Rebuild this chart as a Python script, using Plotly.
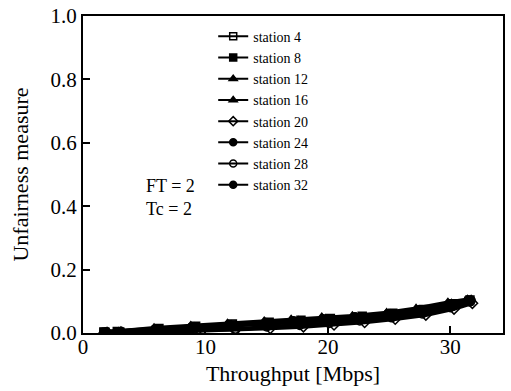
import plotly.graph_objects as go

# Data (throughput in Mbps, unfairness measure)
stations = ["station 4", "station 8", "station 12", "station 16",
            "station 20", "station 24", "station 28", "station 32"]

x_s4 = [1.8, 3.0, 6.0, 9.0, 12.0, 15.0, 17.5, 20.0, 22.5, 25.0, 27.5, 30.0, 31.5]
y_s4 = [0.002, 0.003, 0.010, 0.016, 0.022, 0.028, 0.033, 0.039, 0.046, 0.055, 0.067, 0.085, 0.100]

x_s8 = [1.7, 2.8, 6.2, 9.2, 12.2, 15.2, 17.8, 20.2, 22.8, 25.3, 27.8, 30.2, 31.6]
y_s8 = [0.003, 0.005, 0.014, 0.021, 0.028, 0.034, 0.040, 0.046, 0.053, 0.062, 0.074, 0.092, 0.104]

x_s12 = [1.9, 3.1, 5.8, 8.8, 11.8, 14.8, 17.0, 19.5, 22.0, 24.8, 27.2, 29.8, 31.4]
y_s12 = [0.004, 0.006, 0.016, 0.023, 0.030, 0.037, 0.043, 0.050, 0.054, 0.064, 0.077, 0.096, 0.106]

x_s16 = [1.6, 2.9, 6.1, 9.1, 12.1, 15.1, 17.6, 19.8, 22.3, 25.1, 27.6, 30.1, 31.7]
y_s16 = [0.002, 0.004, 0.012, 0.019, 0.025, 0.032, 0.039, 0.045, 0.050, 0.060, 0.072, 0.093, 0.106]

x_s20 = [2.0, 3.2, 6.3, 9.3, 12.4, 15.3, 18.0, 20.5, 23.0, 25.5, 28.0, 30.3, 31.8]
y_s20 = [0.001, 0.001, 0.004, 0.007, 0.010, 0.015, 0.020, 0.026, 0.034, 0.044, 0.057, 0.076, 0.094]

x_s24 = [1.8, 3.0, 5.9, 8.9, 11.9, 14.9, 17.2, 19.6, 22.2, 24.9, 27.4, 29.9, 31.5]
y_s24 = [0.003, 0.004, 0.013, 0.020, 0.026, 0.033, 0.039, 0.045, 0.051, 0.061, 0.073, 0.091, 0.104]

x_s28 = [1.7, 2.9, 6.0, 9.0, 12.5, 15.0, 17.7, 20.1, 22.6, 25.2, 27.7, 30.0, 31.6]
y_s28 = [0.001, 0.002, 0.006, 0.009, 0.012, 0.019, 0.024, 0.030, 0.038, 0.048, 0.060, 0.080, 0.098]

x_s32 = [1.9, 3.1, 6.1, 9.1, 12.0, 15.2, 17.4, 19.9, 22.4, 25.0, 27.5, 30.1, 31.7]
y_s32 = [0.003, 0.004, 0.011, 0.017, 0.022, 0.028, 0.034, 0.040, 0.047, 0.057, 0.069, 0.089, 0.103]

xs = [x_s4, x_s8, x_s12, x_s16, x_s20, x_s24, x_s28, x_s32]
ys = [y_s4, y_s8, y_s12, y_s16, y_s20, y_s24, y_s28, y_s32]
symbols = ["square-open", "square", "triangle-up", "triangle-up",
           "diamond-open", "circle", "circle-open", "circle"]

x_ticks = [0, 10, 20, 30]
y_ticks = [0.0, 0.2, 0.4, 0.6, 0.8, 1.0]

FONT = "Liberation Serif"

fig = go.Figure()
for i, (name, x, y, sym) in enumerate(zip(stations, xs, ys, symbols)):
    # data (drawn heavy, as in the scanned figure)
    fig.add_trace(go.Scatter(
        x=x, y=y, name=name, mode="lines+markers", legendgroup=name,
        showlegend=False,
        line=dict(color="black", width=4),
        marker=dict(symbol=sym, size=8, color="black",
                    line=dict(color="black", width=1.5)),
    ))
    # legend entry (thin line, as in the figure's key)
    fig.add_trace(go.Scatter(
        x=[None], y=[None], name=name, mode="lines+markers", legendgroup=name,
        showlegend=True,
        line=dict(color="black", width=2),
        marker=dict(symbol=sym, size=7, color="black",
                    line=dict(color="black", width=1.5)),
    ))

fig.add_annotation(text="FT = 2", xref="paper", yref="paper", x=0.145, y=0.465,
                   showarrow=False, xanchor="left", yanchor="middle",
                   font=dict(family=FONT, size=18, color="black"))
fig.add_annotation(text="Tc = 2", xref="paper", yref="paper", x=0.145, y=0.39,
                   showarrow=False, xanchor="left", yanchor="middle",
                   font=dict(family=FONT, size=18, color="black"))

fig.update_layout(
    template="none",
    width=511, height=391,
    margin=dict(l=83, r=8, t=16, b=58),
    paper_bgcolor="white", plot_bgcolor="white",
    font=dict(family=FONT, color="black", size=14),
    showlegend=True,
    legend=dict(x=0.31, y=0.985, xanchor="left", yanchor="top",
                bgcolor="rgba(0,0,0,0)", borderwidth=0,
                font=dict(family=FONT, size=14, color="black"),
                tracegroupgap=0, itemwidth=30),
    xaxis=dict(range=[0, 34.3], tickvals=x_ticks, ticktext=[str(v) for v in x_ticks],
               ticks="inside", ticklen=7, tickwidth=1.5, tickcolor="black",
               showline=True, linecolor="black", linewidth=2, mirror=True,
               showgrid=False, zeroline=False, ticklabelstandoff=-6,
               tickfont=dict(family=FONT, size=21, color="black"),
               title=dict(text="Throughput [Mbps]", standoff=7,
                          font=dict(family=FONT, size=22, color="black"))),
    yaxis=dict(range=[0, 1.0], tickvals=y_ticks, ticktext=[f"{v:.1f}" for v in y_ticks],
               ticks="inside", ticklen=7, tickwidth=1.5, tickcolor="black",
               showline=True, linecolor="black", linewidth=2, mirror=True,
               showgrid=False, zeroline=False,
               tickfont=dict(family=FONT, size=21, color="black"),
               title=dict(text="Unfairness measure", standoff=16,
                          font=dict(family=FONT, size=22, color="black"))),
)

fig.write_html("out.html")
